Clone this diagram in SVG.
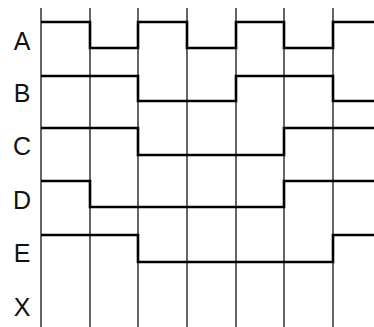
<svg xmlns="http://www.w3.org/2000/svg" width="374" height="327" viewBox="0 0 374 327">
<style>
.grid{stroke:#333;stroke-width:1.5;fill:none}
.sig{stroke:#000;stroke-width:2.6;fill:none}
.lbl{font-family:"Liberation Sans",Arial,sans-serif;font-size:25px;fill:#111;text-anchor:middle}
</style>
<rect width="374" height="327" fill="#fff"/>
<g id="grid">
<path class="grid" d="M41,8V327M90,8V327M138,8V327M187,8V327M236,8V327M284,8V327M333,8V327"/>
</g>
<g id="A"><text class="lbl" x="22" y="50">A</text><path class="sig" d="M41,22H90V48H138V22H187V48H236V22H284V48H333V22H374"/></g>
<g id="B"><text class="lbl" x="22" y="102">B</text><path class="sig" d="M41,76H138V101H236V76H333V101H374"/></g>
<g id="C"><text class="lbl" x="22" y="155">C</text><path class="sig" d="M41,128H138V155H284V128H374"/></g>
<g id="D"><text class="lbl" x="22" y="209">D</text><path class="sig" d="M41,181H90V207H284V181H374"/></g>
<g id="E"><text class="lbl" x="22" y="262">E</text><path class="sig" d="M41,235H138V262H333V235H374"/></g>
<g id="X"><text class="lbl" x="22" y="316">X</text></g>
</svg>
